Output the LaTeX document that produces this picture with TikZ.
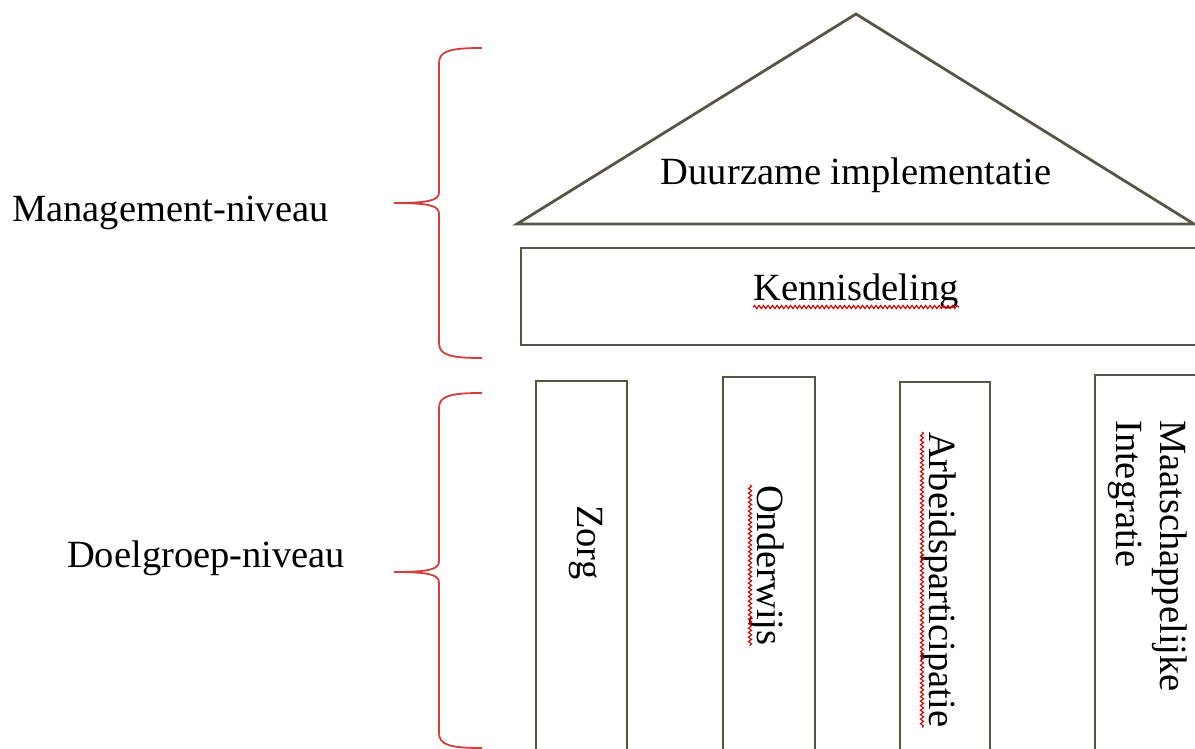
\documentclass[tikz,border=0pt]{standalone}
\usepackage{fontspec}
\setmainfont{Liberation Serif}
\usetikzlibrary{calc, decorations.pathmorphing}

\definecolor{balk}{RGB}{88,84,72}
\definecolor{haakrood}{RGB}{214,62,62}

\tikzset{
  bouw/.style={draw=balk, line width=2.8pt},
  tekst/.style={inner sep=0pt, font=\fontsize{38.5}{44}\selectfont},
  kolom/.style={tekst, rotate=-90},
  haak/.style={draw=haakrood, line width=1.8pt},
  kronkel/.style={draw=red!85!black, line width=1.1pt, decorate,
    decoration={snake, amplitude=1.6pt, segment length=4.5pt}}
}

% accolade: top, middle, bottom
\newcommand{\accolade}[3]{%
  \draw[haak] (482,#1) .. controls (450,#1) and (439,#1+3) .. (439,#1+15)
    -- (439,#2-11) .. controls (439,#2-3) and (431,#2) .. (394,#2)
    .. controls (431,#2) and (439,#2+3) .. (439,#2+11)
    -- (439,#3-15) .. controls (439,#3-3) and (450,#3) .. (482,#3);}

\begin{document}
\begin{tikzpicture}[x=1pt, y=-1pt]
\useasboundingbox (0,0) rectangle (1195,749);
\clip (0,0) rectangle (1195,749);

% dak en balk
\draw[bouw] (517,224) -- (856,14) -- (1194,224) -- cycle;
\draw[bouw] (521,248) rectangle (1215,345);

% zuilen
\draw[bouw] (536,381) rectangle (627,760);
\draw[bouw] (723,377) rectangle (815,760);
\draw[bouw] (900,382) rectangle (990,760);
\draw[bouw] (1095,375) rectangle (1215,760);

\node[tekst, anchor=base] (duurzaam) at (856,185) {Duurzame implementatie};
\node[tekst, anchor=base] (kennis) at (856,300) {Kennisdeling};

\node[kolom, anchor=base west] (zorg) at (577,505) {Zorg};
\node[kolom, anchor=base west] (onderwijs) at (757,485) {Onderwijs};
\node[kolom, anchor=base west] (arbeid) at (929,432) {Arbeidsparticipatie};
\node[kolom, anchor=north west, align=left] (maatschappij) at (1187,420)
  {Maatschappelijke\\Integratie};

% niveaus
\node[tekst, anchor=base west] (management) at (12,222) {Management-niveau};
\node[tekst, anchor=base west] (doelgroep) at (67,567) {Doelgroep-niveau};
\accolade{48}{203}{358}
\accolade{393}{572}{748}

% spellingslijntjes
\foreach \n in {kennis,onderwijs,arbeid}
  \draw[kronkel] ($(\n.base west)!7pt!-90:(\n.base east)$)
    -- ($(\n.base east)!7pt!90:(\n.base west)$);

\end{tikzpicture}
\end{document}
